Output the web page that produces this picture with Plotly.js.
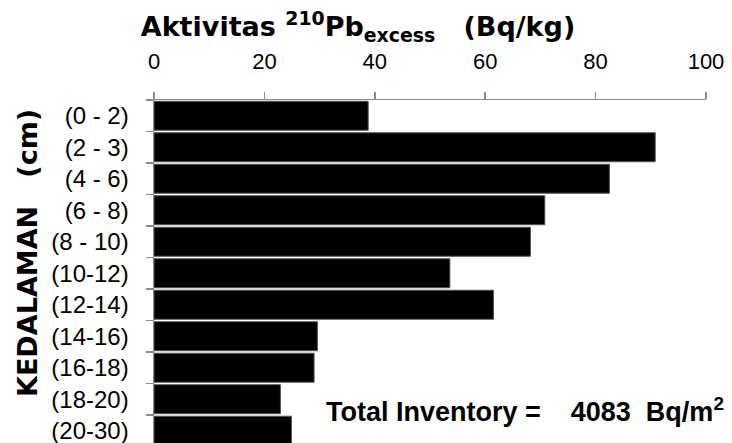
<!DOCTYPE html>
<html>
<head>
<meta charset="utf-8">
<script src="https://cdn.plot.ly/plotly-3.0.1.min.js"></script>
<style>html,body{margin:0;padding:0;background:#fff;}#chart{width:732px;height:443px;}</style>
</head>
<body>
<div id="chart"></div>
<script>
const depths = ["(0 - 2)", "(2 - 3)", "(4 - 6)", "(6 - 8)", "(8 - 10)", "(10-12)", "(12-14)", "(14-16)", "(16-18)", "(18-20)", "(20-30)"];
const activity = [38.8, 90.8, 82.5, 70.8, 68.2, 53.6, 61.5, 29.6, 29.0, 22.9, 24.9];
const xTicks = [0, 20, 40, 60, 80, 100];
const inventoryText = "Total Inventory =\u00A0\u00A0\u00A0 4083\u00A0\u00A0Bq/m<sup>2</sup>";

const heavy = "DejaVu Sans, Liberation Sans, sans-serif";
const axisGrey = "#8a8a8a";

const trace = {
  type: "bar",
  orientation: "h",
  x: activity,
  y: depths,
  marker: {color: "#000000", line: {color: "#555555", width: 1}},
  hoverinfo: "x+y"
};

const layout = {
  width: 732, height: 443,
  margin: {l: 154, r: 26, t: 100, b: 0, pad: 0},
  paper_bgcolor: "#ffffff", plot_bgcolor: "#ffffff",
  bargap: 0.08,
  showlegend: false,
  title: {
    text: "Aktivitas\u00A0<sup>210</sup>Pb<sub>excess</sub>\u00A0\u00A0\u00A0(Bq/kg)",
    font: {family: heavy, size: 27, color: "#000000", weight: "bold"},
    x: (358 - 154) / 552, xref: "paper", xanchor: "center",
    y: 0.94, yref: "container", yanchor: "middle"
  },
  xaxis: {
    side: "top", range: [0, 100], tickvals: xTicks, ticktext: xTicks.map(String),
    ticks: "outside", ticklen: 7, tickwidth: 1.5, tickcolor: axisGrey,
    showline: true, linecolor: axisGrey, linewidth: 1.5,
    showgrid: false, zeroline: false,
    ticklabelstandoff: 14,
    tickfont: {family: "Liberation Sans, Arial, sans-serif", size: 22, color: "#000000"},
    fixedrange: true
  },
  yaxis: {
    type: "category", categoryorder: "array", categoryarray: depths,
    range: [10.39, -0.5],
    tickson: "boundaries",
    ticks: "outside", ticklen: 7, tickwidth: 1.5, tickcolor: axisGrey,
    showline: true, linecolor: axisGrey, linewidth: 1.5,
    showgrid: false, zeroline: false,
    ticklabelstandoff: 19,
    tickfont: {family: "Liberation Sans, Arial, sans-serif", size: 24, color: "#000000"},
    fixedrange: true
  },
  annotations: [
    {
      text: "KEDALAMAN\u00A0\u00A0\u00A0(cm)",
      textangle: -90,
      xref: "paper", yref: "paper",
      x: (28 - 154) / 552, y: (443 - 253) / 343,
      xanchor: "center", yanchor: "middle",
      showarrow: false,
      font: {family: heavy, size: 27, color: "#000000", weight: "bold"}
    },
    {
      text: inventoryText,
      xref: "paper", yref: "paper",
      x: (726 - 154) / 552, y: (443 - 410) / 343,
      xanchor: "right", yanchor: "middle",
      showarrow: false,
      font: {family: "Liberation Sans, Arial, sans-serif", size: 27, color: "#000000", weight: "bold"}
    }
  ]
};

Plotly.newPlot("chart", [trace], layout, {displayModeBar: false, staticPlot: true});
</script>
</body>
</html>
